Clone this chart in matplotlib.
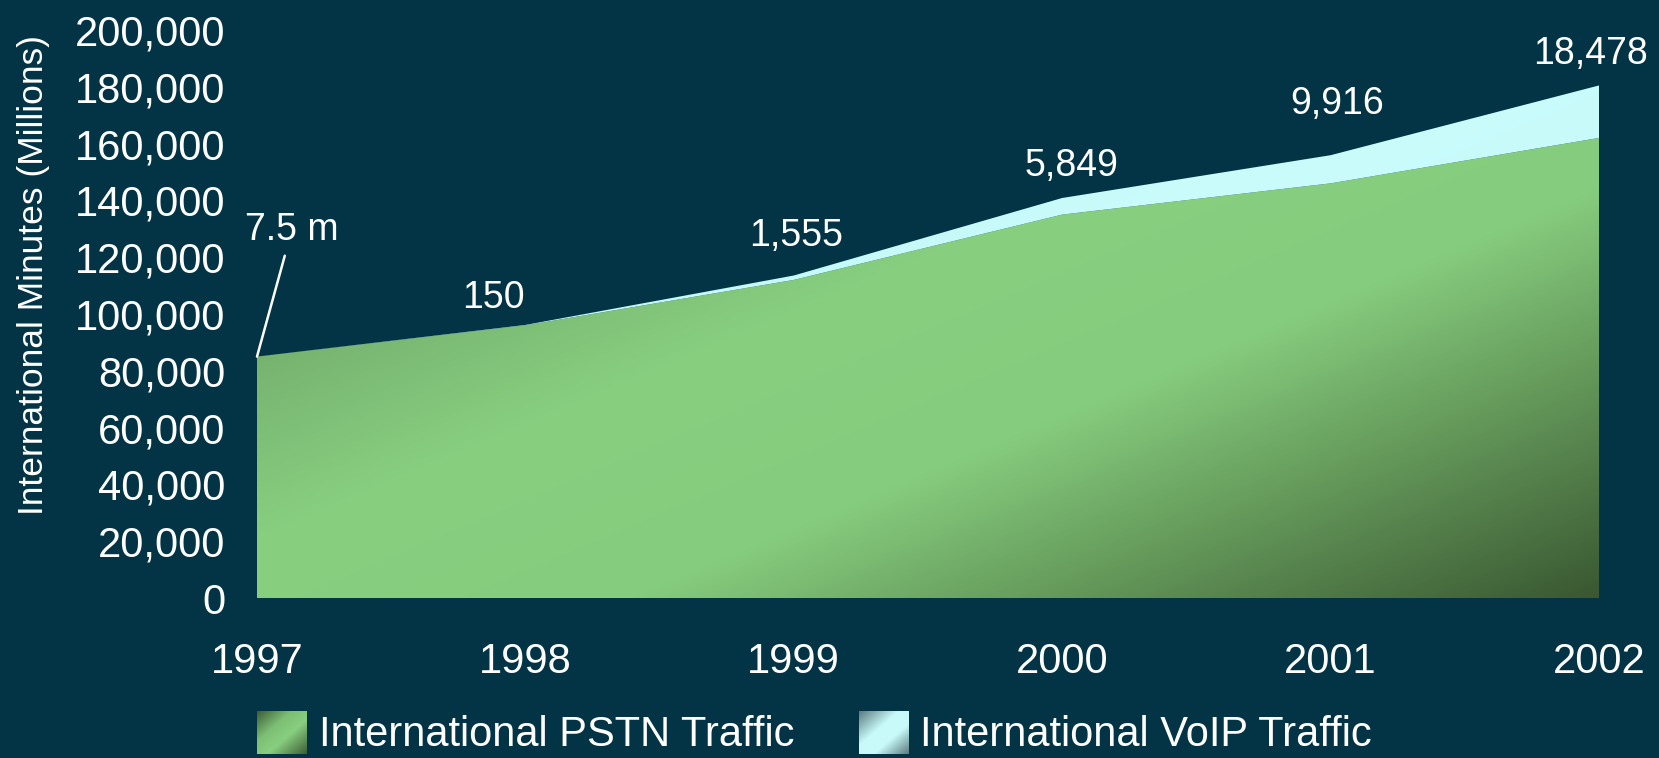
import numpy as np
import matplotlib
matplotlib.use("Agg")
import matplotlib.pyplot as plt
from matplotlib.colors import LinearSegmentedColormap, Normalize
from matplotlib.legend_handler import HandlerBase
from matplotlib.image import BboxImage
from matplotlib.transforms import Bbox, TransformedBbox
from matplotlib.patches import Patch
from matplotlib.ticker import FuncFormatter

# data (international minutes, millions)
years = [1997, 1998, 1999, 2000, 2001, 2002]
pstn = [85000, 96000, 112000, 135000, 146000, 162000]
voip = [7.5, 150, 1555, 5849, 9916, 18478]
voip_labels = ["7.5 m", "150", "1,555", "5,849", "9,916", "18,478"]
yticks = [0, 20000, 40000, 60000, 80000, 100000, 120000, 140000, 160000, 180000, 200000]

# label offsets from the top of the stack, in pixels
label_offsets = [(35, 127), (-32, 27), (2, 40), (9, 32), (7, 51), (-9, 31)]

BG = "#023445"
plt.rcParams["font.family"] = ["Liberation Sans", "DejaVu Sans"]
NARROW = ["Liberation Sans Narrow", "Liberation Sans", "DejaVu Sans"]

green_cmap = LinearSegmentedColormap.from_list(
    "pstn", [(0.0, "#557f4c"), (0.3, "#78b571"), (0.45, "#88cf80"),
             (0.64, "#86cc7e"), (0.8, "#64985a"), (1.0, "#3a5832")])
cyan_cmap = LinearSegmentedColormap.from_list(
    "voip", [(0.0, "#b5eaea"), (0.5, "#cafcfc"), (1.0, "#bff3f3")])
green_leg = LinearSegmentedColormap.from_list(
    "pstn_leg", [(0.0, "#3f5e37"), (0.35, "#7dbf75"), (0.6, "#88cf80"), (1.0, "#3f5e37")])
cyan_leg = LinearSegmentedColormap.from_list(
    "voip_leg", [(0.0, "#5d7c80"), (0.4, "#c8fafa"), (0.65, "#c8fafa"), (1.0, "#5d7c80")])


def diag_grid(n=300):
    u, v = np.meshgrid(np.linspace(0, 1, n), np.linspace(0, 1, n))
    return 0.5 * u + 0.5 * (1 - v)


class GradientHandler(HandlerBase):
    def __init__(self, cmap):
        super().__init__()
        self.cmap = cmap

    def create_artists(self, legend, orig_handle, xdescent, ydescent,
                       width, height, fontsize, trans):
        bb = Bbox.from_bounds(-xdescent, -ydescent, width, height)
        img = BboxImage(TransformedBbox(bb, trans), cmap=self.cmap,
                        norm=Normalize(0, 1), interpolation="bilinear", origin="lower")
        img.set_data(diag_grid(60))
        return [img]


fig = plt.figure(figsize=(16.59, 7.58), dpi=100, facecolor=BG)
ax = fig.add_axes([257 / 1659, 160 / 758, (1599 - 257) / 1659, (598 - 30) / 758])
ax.set_facecolor(BG)

x = np.array(years)
p = np.array(pstn, dtype=float)
v = np.array(voip, dtype=float)
total = p + v

extent = (years[0], years[-1], 0, 200000)
grid = diag_grid()

poly_g = ax.fill_between(x, 0, p, facecolor="none", edgecolor="none")
img_g = ax.imshow(grid, extent=extent, origin="lower", aspect="auto",
                  cmap=green_cmap, norm=Normalize(0, 1), interpolation="bilinear")
img_g.set_clip_path(poly_g.get_paths()[0], transform=ax.transData)

poly_c = ax.fill_between(x, p, total, facecolor="none", edgecolor="none")
img_c = ax.imshow(grid, extent=extent, origin="lower", aspect="auto",
                  cmap=cyan_cmap, norm=Normalize(0, 1), interpolation="bilinear")
img_c.set_clip_path(poly_c.get_paths()[0], transform=ax.transData)

ax.set_xlim(years[0], years[-1])
ax.set_ylim(0, 200000)
ax.set_xticks(years)
ax.set_yticks(yticks)
ax.yaxis.set_major_formatter(FuncFormatter(lambda val, pos: f"{val:,.0f}"))
for s in ax.spines.values():
    s.set_visible(False)
ax.tick_params(axis="y", length=0, pad=23, labelsize=30, colors="white")
ax.tick_params(axis="x", length=0, pad=32, labelsize=30, colors="white")

# VoIP value labels
for i, (yr, tot, lab) in enumerate(zip(years, total, voip_labels)):
    dx, dy = label_offsets[i]
    if i == 0:
        ax.annotate(lab, xy=(yr, tot), xytext=(dx, dy), textcoords="offset pixels",
                    ha="center", va="center", fontsize=27, color="white",
                    arrowprops=dict(arrowstyle="-", color="white", lw=1.8,
                                    shrinkA=4, shrinkB=0),
                    annotation_clip=False)
    else:
        ax.annotate(lab, xy=(yr, tot), xytext=(dx, dy), textcoords="offset pixels",
                    ha="center", va="center", fontsize=27, color="white",
                    annotation_clip=False)

fig.text(34 / 1659, 1 - 275 / 758, "International Minutes (Millions)", rotation=90,
         ha="center", va="center", fontsize=25.5, color="white", family=NARROW)

h1 = Patch(label="International PSTN Traffic")
h2 = Patch(label="International VoIP Traffic")
leg = fig.legend(handles=[h1, h2], loc="center left",
                 bbox_to_anchor=(257 / 1659, 1 - 733 / 758), ncol=2, frameon=False,
                 borderpad=0, borderaxespad=0, handlelength=1.2, handleheight=1.2,
                 handletextpad=0.28, columnspacing=1.55,
                 prop={"family": NARROW, "size": 30},
                 handler_map={h1: GradientHandler(green_leg), h2: GradientHandler(cyan_leg)})
for t in leg.get_texts():
    t.set_color("white")

fig.savefig("out.png", dpi=100, facecolor=BG)
